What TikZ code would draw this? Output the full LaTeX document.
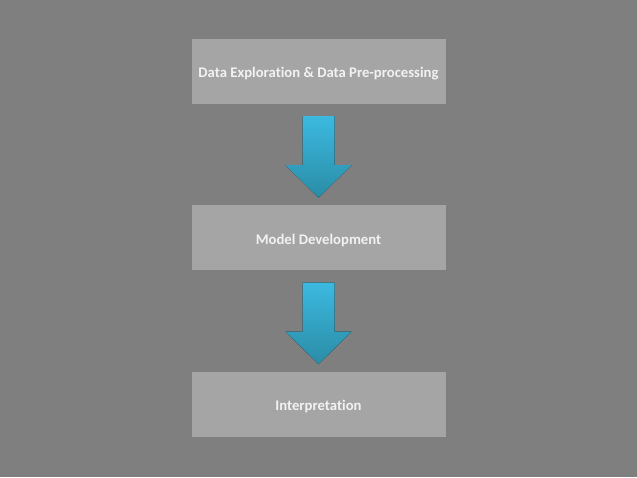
\documentclass[tikz,border=0pt]{standalone}
\usepackage{fontspec}
\setmainfont{Carlito}[Ligatures=NoCommon]
\usetikzlibrary{positioning,calc}
\definecolor{bggray}{HTML}{7F7F7F}
\definecolor{boxgray}{HTML}{A5A5A5}
\definecolor{txtwhite}{HTML}{F2F2F2}
\definecolor{arrtop}{HTML}{3CB9E0}
\definecolor{arrbot}{HTML}{2A8CA6}
\newcommand{\stagearrow}[2]{%
\fill[flowarrow] ($(#1.south)+(-16,12)$) -- ($(#1.south)+(16,12)$) -- ($(#1.south)+(16,61)$) -- ($(#1.south)+(33,61)$) -- ($(#2.north)+(0,-7.5)$) -- ($(#1.south)+(-33,61)$) -- ($(#1.south)+(-16,61)$) -- cycle;}

\begin{document}
\begin{tikzpicture}[x=1pt, y=-1pt,
  stage/.style={fill=boxgray, minimum width=254pt, minimum height=65pt, inner sep=0pt, text height=12.5pt, text depth=0pt, text=txtwhite, font=\fontsize{14.7}{17}\selectfont\bfseries},
  flowarrow/.style={top color=arrtop, bottom color=arrbot, draw=none}]
\fill[bggray] (0,0) rectangle (637,477);
\node[stage] (explore) at (318.5,71.5) {Data Exploration \& Data Pre-processing};
\node[stage, below=101pt of explore] (model) {Model Development};
\node[stage, below=101pt of model] (interp) {Interpretation};
\stagearrow{explore}{model}
\stagearrow{model}{interp}
\end{tikzpicture}
\end{document}
